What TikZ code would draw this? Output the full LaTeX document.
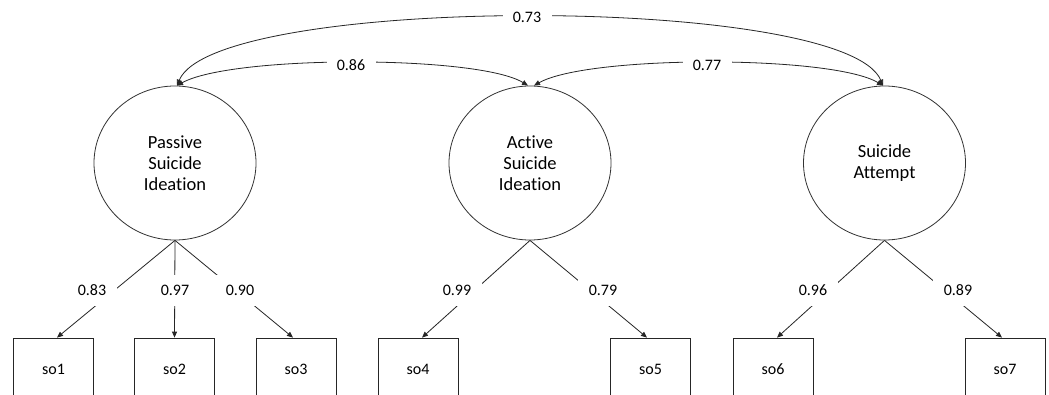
\documentclass[tikz,border=0pt]{standalone}
\usepackage{fontspec}
\setmainfont{Carlito}[Ligatures={NoCommon,NoContextual}]
\usetikzlibrary{arrows.meta,shapes.geometric}
\begin{document}
\begin{tikzpicture}[x=1pt,y=-1pt,
  conn/.style={line width=0.8pt,draw=black!85},
  tip/.style={-{Triangle[length=6pt,width=5pt]}},
  both/.style={{Triangle[length=6pt,width=5pt]}-{Triangle[length=6pt,width=5pt]}},
  latent/.style={ellipse,draw=black!80,line width=0.8pt,minimum width=162pt,minimum height=154pt,inner sep=0pt,align=center,font=\fontsize{18.5}{21}\selectfont},
  obs/.style={rectangle,draw=black!85,line width=0.8pt,minimum width=80pt,minimum height=62pt,inner sep=0pt,font=\fontsize{16}{18}\selectfont},
  load/.style={fill=white,minimum width=50pt,minimum height=31pt,inner sep=0pt,font=\fontsize{16}{18}\selectfont},
  corr/.style={fill=white,minimum width=49pt,minimum height=16pt,inner sep=0pt,font=\fontsize{16}{18}\selectfont}
]
\useasboundingbox (0,0) rectangle (1049,394);
\clip (0,0) rectangle (1049,394);
\fill[white] (0,0) rectangle (1049,394);

% latent variables
\node[latent] (c1) at (175,163) {Passive\\Suicide\\Ideation};
\node[latent] (c2) at (530,163) {Active\\Suicide\\Ideation};
\node[latent] (c3) at (884.5,163) {Suicide\\Attempt};

% observed variables
\node[obs] (so1) at (53.5,369) {so1};
\node[obs] (so2) at (174.5,369) {so2};
\node[obs] (so3) at (296,369) {so3};
\node[obs] (so4) at (418,369) {so4};
\node[obs] (so5) at (650.5,369) {so5};
\node[obs] (so6) at (773,369) {so6};
\node[obs] (so7) at (1005,369) {so7};

% loadings
\draw[conn,tip] (c1.south) -- ([xshift=3.5pt]so1.north);
\draw[conn,tip] (c1.south) -- (so2.north);
\draw[conn,tip] (c1.south) -- ([xshift=-3pt]so3.north);
\draw[conn,tip] (c2.south) -- ([xshift=4pt]so4.north);
\draw[conn,tip] (c2.south) -- ([xshift=-3.5pt]so5.north);
\draw[conn,tip] (c3.south) -- ([xshift=4pt]so6.north);
\draw[conn,tip] (c3.south) -- ([xshift=-3pt]so7.north);

\node[load] (l1) at (92,290) {0.83};
\node[load] (l2) at (175,290) {0.97};
\node[load] (l3) at (240,290) {0.90};
\node[load] (l4) at (457,290) {0.99};
\node[load] (l5) at (603,290) {0.79};
\node[load] (l6) at (813,290) {0.96};
\node[load] (l7) at (958,290) {0.89};

% correlations
\draw[conn,both] ([xshift=2pt]c1.north) .. controls (215,-6) and (845,-6) .. ([xshift=-1.5pt]c3.north);
\draw[conn,both] ([xshift=2pt]c1.north) .. controls (232,55) and (478,55) .. ([xshift=-2pt]c2.north);
\draw[conn,both] ([xshift=4pt]c2.north) .. controls (588,55) and (832,55) .. ([xshift=-1.5pt]c3.north);

\node[corr] (r1) at (527,17) {0.73};
\node[corr] (r2) at (351,65) {0.86};
\node[corr] (r3) at (707,65) {0.77};
\end{tikzpicture}
\end{document}
